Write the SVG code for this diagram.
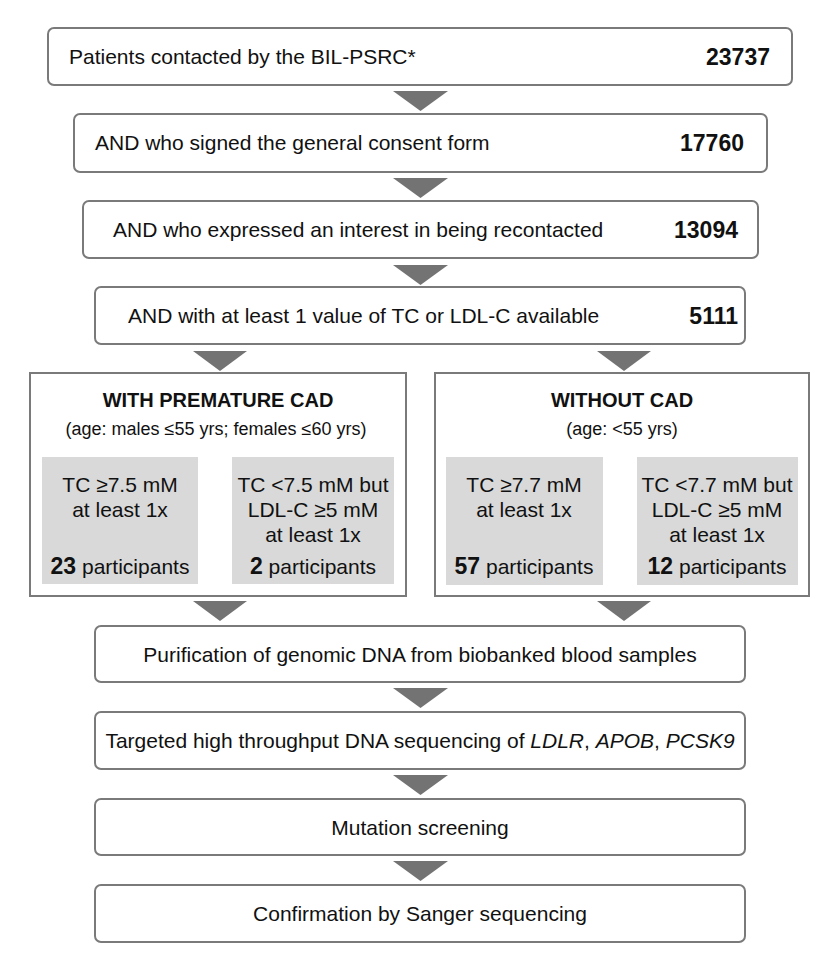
<svg xmlns="http://www.w3.org/2000/svg" width="840" height="970" viewBox="0 0 840 970">
<style>
.box{fill:#fff;stroke:#7a7a7a;stroke-width:2}
.grp{fill:#fff;stroke:#7a7a7a;stroke-width:2}
.inner{fill:#d9d9d9}
.arr{fill:#737373}
text{font-family:"Liberation Sans",Arial,sans-serif;font-size:21px;fill:#111}
.b{font-weight:bold}
.n{font-weight:bold;font-size:23px}
.t{font-weight:bold;font-size:20px}
.c{text-anchor:middle}
.r{text-anchor:end}
.s{font-size:18px}
</style>
<rect width="840" height="970" fill="#fff"/>
<g id="connectors">
<polygon class="arr" points="393,91 448,91 420.5,111"/>
<polygon class="arr" points="393,178 448,178 420.5,198"/>
<polygon class="arr" points="393,265 448,265 420.5,285"/>
<polygon class="arr" points="193,351 247,351 220,371"/>
<polygon class="arr" points="597,351 651,351 624,371"/>
<polygon class="arr" points="193,601 247,601 220,621"/>
<polygon class="arr" points="597,601 651,601 624,621"/>
<polygon class="arr" points="393,688 448,688 420.5,708"/>
<polygon class="arr" points="393,775 448,775 420.5,795"/>
<polygon class="arr" points="393,861 448,861 420.5,881"/>
</g>
<g id="n1"><rect class="box" x="48" y="28" width="744" height="57" rx="6"/><text x="69" y="64">Patients contacted by the BIL-PSRC*</text><text class="n r" x="770" y="65">23737</text></g>
<g id="n2"><rect class="box" x="74" y="114" width="693" height="58" rx="6"/><text x="95" y="150">AND who signed the general consent form</text><text class="n r" x="744" y="151">17760</text></g>
<g id="n3"><rect class="box" x="83" y="201" width="675" height="57" rx="6"/><text x="113" y="237">AND who expressed an interest in being recontacted</text><text class="n r" x="738" y="238">13094</text></g>
<g id="n4"><rect class="box" x="95" y="287" width="650" height="57" rx="6"/><text x="128" y="323">AND with at least 1 value of TC or LDL-C available</text><text class="n r" x="738" y="324">5111</text></g>
<g id="premature">
<rect class="grp" x="30" y="373" width="376" height="223"/>
<text class="t c" x="218" y="407">WITH PREMATURE CAD</text>
<text class="c s" x="216" y="435">(age: males ≤55 yrs; females ≤60 yrs)</text>
<g id="p1"><rect class="inner" x="42" y="457" width="156" height="127"/>
<text class="c" x="120" y="492">TC ≥7.5 mM</text><text class="c" x="120" y="517">at least 1x</text><text class="c" x="120" y="574"><tspan class="n">23</tspan> participants</text></g>
<g id="p2"><rect class="inner" x="232" y="457" width="162" height="127"/>
<text class="c" x="313" y="492">TC &lt;7.5 mM but</text><text class="c" x="313" y="517">LDL-C ≥5 mM</text><text class="c" x="313" y="542">at least 1x</text><text class="c" x="313" y="574"><tspan class="n">2</tspan> participants</text></g>
</g>
<g id="without">
<rect class="grp" x="435" y="373" width="374" height="223"/>
<text class="t c" x="622" y="407">WITHOUT CAD</text>
<text class="c s" x="622" y="435">(age: &lt;55 yrs)</text>
<g id="w1"><rect class="inner" x="446" y="457" width="157" height="128"/>
<text class="c" x="524" y="492">TC ≥7.7 mM</text><text class="c" x="524" y="517">at least 1x</text><text class="c" x="524" y="574"><tspan class="n">57</tspan> participants</text></g>
<g id="w2"><rect class="inner" x="637" y="457" width="161" height="128"/>
<text class="c" x="717" y="492">TC &lt;7.7 mM but</text><text class="c" x="717" y="517">LDL-C ≥5 mM</text><text class="c" x="717" y="542">at least 1x</text><text class="c" x="717" y="574"><tspan class="n">12</tspan> participants</text></g>
</g>
<g id="n5"><rect class="box" x="95" y="626" width="650" height="56" rx="6"/><text class="c" x="420" y="662">Purification of genomic DNA from biobanked blood samples</text></g>
<g id="n6"><rect class="box" x="95" y="712" width="650" height="57" rx="6"/><text class="c" x="420" y="748">Targeted high throughput DNA sequencing of <tspan font-style="italic">LDLR</tspan>, <tspan font-style="italic">APOB</tspan>, <tspan font-style="italic">PCSK9</tspan></text></g>
<g id="n7"><rect class="box" x="95" y="799" width="650" height="56" rx="6"/><text class="c" x="420" y="835">Mutation screening</text></g>
<g id="n8"><rect class="box" x="95" y="885" width="650" height="57" rx="6"/><text class="c" x="420" y="921">Confirmation by Sanger sequencing</text></g>
</svg>
